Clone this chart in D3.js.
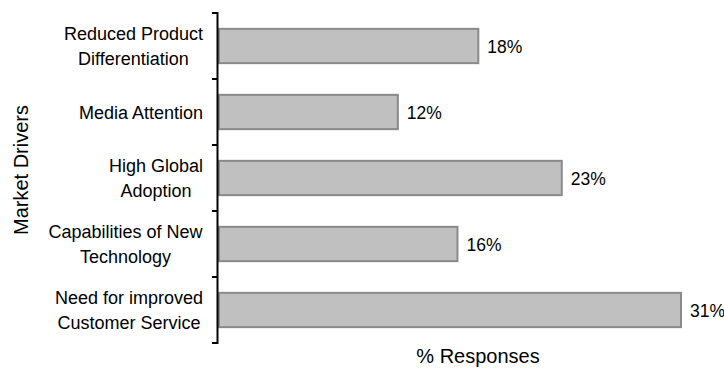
<!DOCTYPE html>
<html>
<head>
<meta charset="utf-8">
<script src="https://cdn.jsdelivr.net/npm/d3@7"></script>
<style>
  body { margin: 0; background: #fff; }
  text { font-family: "Liberation Sans", Arial, sans-serif; fill: #000; }
</style>
</head>
<body>
<script>
const categories = [
  'Reduced Product\nDifferentiation',
  'Media Attention',
  'High Global\nAdoption',
  'Capabilities of New\nTechnology',
  'Need for improved\nCustomer Service'
];
const values = [17.4, 12.0, 23.0, 16.0, 31.0];
const valueLabels = ['18%', '12%', '23%', '16%', '31%'];

const width = 724;
const height = 374;
const plot = {left: 218, top: 13, bottom: 343};

const svg = d3.select('body').append('svg')
    .attr('width', width)
    .attr('height', height);

const yScale = d3.scaleBand()
    .domain(categories)
    .range([plot.top, plot.bottom])
    .paddingInner(0.48)
    .paddingOuter(0.24);

const xScale = d3.scaleLinear()
    .domain([0, 31])
    .range([plot.left + 1, plot.left + 1 + 462]);

const data = categories.map((c, i) => ({cat: c, value: values[i], label: valueLabels[i]}));

// bars
svg.selectAll('rect.bar')
    .data(data)
    .enter()
    .append('rect')
    .attr('class', 'bar')
    .attr('x', xScale(0))
    .attr('y', d => yScale(d.cat))
    .attr('width', d => xScale(d.value) - xScale(0))
    .attr('height', yScale.bandwidth())
    .attr('fill', '#c0c0c0')
    .attr('stroke', '#8a8a8a')
    .attr('stroke-width', 2);

// value labels
svg.selectAll('text.val')
    .data(data)
    .enter()
    .append('text')
    .attr('class', 'val')
    .attr('x', d => xScale(d.value) + 9)
    .attr('y', d => yScale(d.cat) + yScale.bandwidth() / 2 + 6.5)
    .style('font-size', '17.5px')
    .text(d => d.label);

// axis line and ticks at band boundaries
const step = yScale.step();
const tickYs = d3.range(categories.length + 1).map(i => plot.top + i * step);
svg.append('line')
    .attr('x1', plot.left - 0.5).attr('x2', plot.left - 0.5)
    .attr('y1', plot.top - 1).attr('y2', plot.bottom + 1)
    .attr('stroke', '#000').attr('stroke-width', 2);
svg.selectAll('line.tick')
    .data(tickYs)
    .enter()
    .append('line')
    .attr('class', 'tick')
    .attr('x1', plot.left - 6).attr('x2', plot.left)
    .attr('y1', d => d).attr('y2', d => d)
    .attr('stroke', '#000').attr('stroke-width', 2);

// category labels: block right-aligned at x=203, lines centred in the block
const lineH = 25;
svg.selectAll('g.cat')
    .data(data)
    .enter()
    .append('g')
    .attr('class', 'cat')
    .each(function(d) {
        const g = d3.select(this);
        const lines = d.cat.split('\n');
        const cy = yScale(d.cat) + yScale.bandwidth() / 2;
        const t = g.append('text')
            .attr('text-anchor', 'middle')
            .style('font-size', '18px');
        lines.forEach((ln, i) => {
            t.append('tspan')
                .attr('x', 0)
                .attr('y', cy - (lines.length - 1) * lineH / 2 + i * lineH + 6.5)
                .text(ln);
        });
        const w = t.node().getBBox().width;
        g.attr('transform', `translate(${203 - w / 2}, 0)`);
    });

// axis titles
svg.append('text')
    .text('Market Drivers')
    .attr('text-anchor', 'middle')
    .attr('transform', 'translate(28, 170) rotate(-90)')
    .style('font-size', '20px');

svg.append('text')
    .text('% Responses')
    .attr('x', 478)
    .attr('y', 363)
    .attr('text-anchor', 'middle')
    .style('font-size', '20px');
</script>
</body>
</html>
